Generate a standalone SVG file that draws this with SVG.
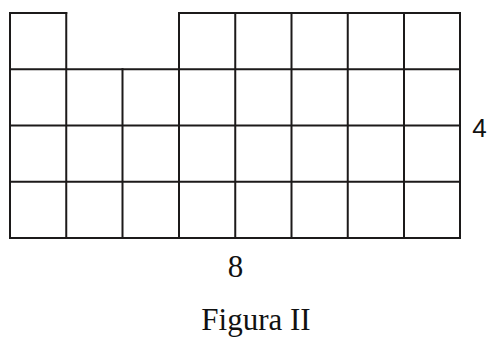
<svg xmlns="http://www.w3.org/2000/svg" width="488" height="338" viewBox="0 0 488 338">
<style>
.g{stroke:#1c1a1a;stroke-width:2;fill:none;stroke-linecap:square}
.s{font-family:"Liberation Serif","Times New Roman",serif;fill:#111}
.a{font-family:"Liberation Sans",Arial,sans-serif;fill:#111}
</style>
<rect width="488" height="338" fill="#fff"/>
<g id="grid" class="g">
<path d="M10,13H66.25M179,13H460"/>
<path d="M10,69.25H460M10,125.5H460M10,181.75H460M10,238H460"/>
<path d="M10,13V238M66.25,13V238M122.5,69.25V238M179,13V238M235.25,13V238M291.5,13V238M347.75,13V238M404,13V238M460,13V238"/>
</g>
<g id="labels">
<text class="a" x="479.5" y="137" font-size="26" text-anchor="middle">4</text>
<text class="s" x="235.5" y="277" font-size="31" text-anchor="middle">8</text>
<text class="s" x="256" y="330" font-size="31" text-anchor="middle">Figura II</text>
</g>
</svg>
